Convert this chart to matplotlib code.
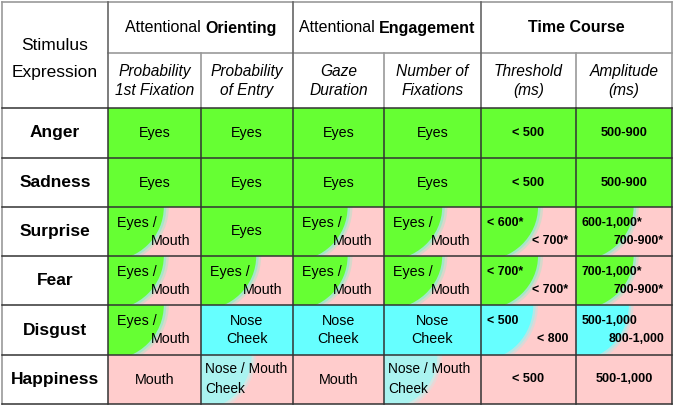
import matplotlib
matplotlib.use('Agg')
import matplotlib.pyplot as plt
from matplotlib.patches import Rectangle, Ellipse

plt.rcParams['font.family'] = ['Liberation Sans', 'DejaVu Sans']

# данные таблицы
rows = ['Anger', 'Sadness', 'Surprise', 'Fear', 'Disgust', 'Happiness']
group_light = ['Attentional ', 'Attentional ', '']
group_bold = ['Orienting', 'Engagement', 'Time Course']
sub_headers = ['Probability\n1st Fixation', 'Probability\nof Entry', 'Gaze\nDuration',
               'Number of\nFixations', 'Threshold\n(ms)', 'Amplitude\n(ms)']

# текст ячеек: строка или (верх, низ[, выравнивание])
cells = [
    ['Eyes', 'Eyes', 'Eyes', 'Eyes', '< 500', '500-900'],
    ['Eyes', 'Eyes', 'Eyes', 'Eyes', '< 500', '500-900'],
    [('Eyes /', 'Mouth'), 'Eyes', ('Eyes /', 'Mouth'), ('Eyes /', 'Mouth'),
     ('< 600*', '< 700*'), ('600-1,000*', '700-900*')],
    [('Eyes /', 'Mouth'), ('Eyes /', 'Mouth'), ('Eyes /', 'Mouth'), ('Eyes /', 'Mouth'),
     ('< 700*', '< 700*'), ('700-1,000*', '700-900*')],
    [('Eyes /', 'Mouth'), 'Nose\nCheek', 'Nose\nCheek', 'Nose\nCheek',
     ('< 500', '< 800'), ('500-1,000', '800-1,000')],
    ['Mouth', ('Nose / Mouth', 'Cheek', 'left'), 'Mouth', ('Nose / Mouth', 'Cheek', 'left'),
     '< 500', '500-1,000'],
]
# G - зелёный, P - розовый, C - голубой, составные - левая часть / правая часть
fills = [
    ['G', 'G', 'G', 'G', 'G', 'G'],
    ['G', 'G', 'G', 'G', 'G', 'G'],
    ['GP', 'G', 'GP', 'GP', 'GP', 'GP'],
    ['GP', 'GP', 'GP', 'GP', 'GP', 'GP'],
    ['GP', 'C', 'C', 'C', 'CP', 'CP'],
    ['P', 'LP', 'P', 'LP', 'P', 'P'],
]

colors = {'G': '#66ff33', 'P': '#ffcccc', 'C': '#66ffff', 'L': '#aaf3f0'}
blend = {'G': '#8ef0c8', 'C': '#a0f0ee', 'L': '#c8eeea'}

# сетка (пиксели)
xs = [2, 108, 201, 293, 384, 481, 576, 672]
ys = [2, 53, 108, 158, 207, 256, 305, 355, 404]

fig = plt.figure(figsize=(6.75, 4.07), dpi=100)
ax = fig.add_axes([0, 0, 1, 1])
ax.set_xlim(0, 675)
ax.set_ylim(407, 0)
ax.axis('off')

for i, name in enumerate(rows):
    y0, y1 = ys[i + 2], ys[i + 3]
    yc = (y0 + y1) / 2
    ax.text(55, yc, name, ha='center', va='center', fontsize=12.5, fontweight='bold')
    for j in range(6):
        x0, x1 = xs[j + 1], xs[j + 2]
        w, h = x1 - x0, y1 - y0
        f = fills[i][j]
        time_col = j >= 4
        fs = 9.2 if time_col else 10.3
        fw = 'bold' if time_col else 'normal'
        if len(f) == 1:
            ax.add_patch(Rectangle((x0, y0), w, h, facecolor=colors[f], edgecolor='none'))
        else:
            base = Rectangle((x0, y0), w, h, facecolor=colors[f[1]], edgecolor='none')
            ax.add_patch(base)
            rx = 0.6 * w if f[0] == 'G' else 0.55 * w
            ry = 1.1 * h
            # мягкая кромка между цветами
            for k, a in ((1.09, 0.35), (1.045, 0.7)):
                soft = Ellipse((x0, y0), 2 * rx * k, 2 * ry * k, facecolor=blend[f[0]],
                               edgecolor='none', alpha=a)
                ax.add_patch(soft)
                soft.set_clip_path(base)
            el = Ellipse((x0, y0), 2 * rx, 2 * ry, facecolor=colors[f[0]], edgecolor='none')
            ax.add_patch(el)
            el.set_clip_path(base)
        t = cells[i][j]
        if isinstance(t, str):
            ax.text((x0 + x1) / 2, yc, t, ha='center', va='center', fontsize=fs,
                    fontweight=fw, linespacing=1.3)
        else:
            fs2 = 8.9 if time_col else 10.3
            if len(t) > 2:
                ax.text(x0 + 4, y0 + 14, t[0], ha='left', va='center', fontsize=9.9,
                        fontweight=fw)
                ax.text(x0 + 4, y0 + 34, t[1], ha='left', va='center', fontsize=9.9,
                        fontweight=fw)
            else:
                ax.text(x0 + (6 if time_col else 9), y0 + 16, t[0], ha='left',
                        va='center', fontsize=fs2, fontweight=fw)
                ax.text(x1 - (8 if time_col else 11), y0 + 34, t[1], ha='right',
                        va='center', fontsize=fs2, fontweight=fw)

# шапка
ax.text(55, 45, 'Stimulus', ha='center', va='center', fontsize=12.5)
ax.text(55, 72, 'Expression', ha='center', va='center', fontsize=12.5)
for g in range(3):
    x0, x1 = xs[1 + 2 * g], xs[3 + 2 * g]
    xc = (x0 + x1) / 2
    light = ax.text(0, 0, group_light[g], fontsize=11.5)
    bold = ax.text(0, 0, group_bold[g], fontsize=11.5, fontweight='bold')
    fig.canvas.draw()
    r = fig.canvas.get_renderer()
    wl = light.get_window_extent(r).width if group_light[g] else 0
    wb = bold.get_window_extent(r).width
    start = xc - (wl + wb) / 2
    light.set_position((start, 28))
    light.set_va('center')
    bold.set_position((start + wl, 28))
    bold.set_va('center')
for j, s in enumerate(sub_headers):
    ax.text((xs[j + 1] + xs[j + 2]) / 2, 81, s, ha='center', va='center', fontsize=11.2,
            style='italic', linespacing=1.4)

# линии
grey = '#999999'
dark = '#333333'
ax.plot([xs[0], xs[-1]], [ys[0], ys[0]], color=grey, lw=1.2)
ax.plot([xs[1], xs[-1]], [ys[1], ys[1]], color=grey, lw=1.2)
ax.plot([xs[0], xs[0]], [ys[0], ys[-1]], color=grey, lw=1.2)
ax.plot([xs[-1], xs[-1]], [ys[0], ys[2]], color=grey, lw=1.2)
for k in (1, 3, 5):
    ax.plot([xs[k], xs[k]], [ys[0], ys[2]], color='#666666', lw=1.2)
for k in (2, 4, 6):
    ax.plot([xs[k], xs[k]], [ys[1], ys[2]], color=grey, lw=1.2)
for y in ys[2:]:
    ax.plot([xs[0], xs[-1]], [y, y], color=dark, lw=1.1)
for x in xs[1:]:
    ax.plot([x, x], [ys[2], ys[-1]], color=dark, lw=1.1)

fig.savefig('out.png', dpi=100)
